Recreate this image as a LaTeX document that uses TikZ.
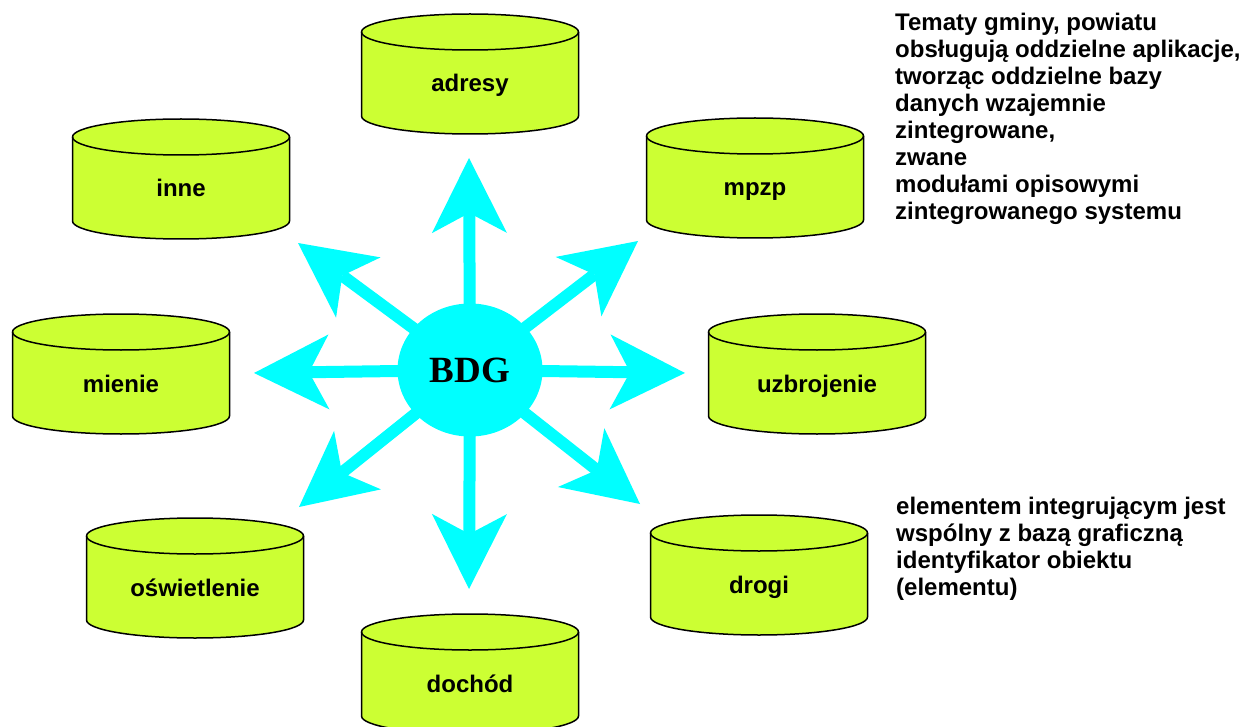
\documentclass[tikz,border=0pt]{standalone}
\usepackage{fontspec}
\setmainfont{Liberation Sans}
\newfontfamily\hubfont{Liberation Serif}
\usetikzlibrary{arrows.meta,shapes.geometric,backgrounds}

\definecolor{cyllime}{HTML}{CCFF33}
\definecolor{hubcyan}{HTML}{00FFFF}

\tikzset{
  cyllabel/.style={font=\bfseries\fontsize{24}{27}\selectfont, inner sep=0pt, anchor=base},
  % database cylinder: origin at the centre of the top ellipse
  dbcyl/.pic={
    \filldraw[fill=cyllime, draw=black, line width=1.5pt, line join=round]
      (-108.5,0) -- (-108.5,84)
      arc[start angle=180, end angle=360, x radius=108.5pt, y radius=18pt]
      -- (108.5,0)
      arc[start angle=0, end angle=180, x radius=108.5pt, y radius=18pt] -- cycle;
    \draw[line width=1.5pt]
      (-108.5,0) arc[start angle=180, end angle=360, x radius=108.5pt, y radius=18pt];
    \node[cyllabel] (-txt) at (0,60) {#1};
  },
  hub/.style={ellipse, fill=hubcyan, minimum width=145pt, minimum height=133pt,
    inner sep=0pt, font=\hubfont\bfseries\fontsize{37}{40}\selectfont},
  spoke/.style={draw=hubcyan, line width=12pt,
    -{Stealth[length=75pt, width=75pt, inset=20pt, line width=0pt, fill=hubcyan]}},
  note/.style={font=\bfseries\fontsize{24}{27}\selectfont, align=left,
    inner sep=0pt, anchor=north west},
}

\begin{document}
\begin{tikzpicture}[x=1pt, y=-1pt]
  \useasboundingbox (0,0) rectangle (1249,727);
  \clip (0,0) rectangle (1249,727);

  % central database
  \node[hub] (bdg) at (470,370) {BDG};

  % free ends of the spokes
  \coordinate (tipN)  at (469,158);
  \coordinate (tipS)  at (469,589);
  \coordinate (tipE)  at (685,373);
  \coordinate (tipW)  at (254,373);
  \coordinate (tipNE) at (638,241);
  \coordinate (tipNW) at (298,243);
  \coordinate (tipSW) at (299,507);
  \coordinate (tipSE) at (640,504);

  \begin{scope}[on background layer]
    \foreach \t in {tipN,tipS,tipE,tipW,tipNE,tipNW,tipSW,tipSE}
      \draw[spoke] (bdg.center) -- (\t);
  \end{scope}

  % descriptive modules
  \pic (adresy)      at (470,32)  {dbcyl={adresy}};
  \pic (inne)        at (181,137) {dbcyl={inne}};
  \pic (mpzp)        at (755,136) {dbcyl={mpzp}};
  \pic (mienie)      at (121,332) {dbcyl={mienie}};
  \pic (uzbrojenie)  at (817,332) {dbcyl={uzbrojenie}};
  \pic (oswietlenie) at (195,536) {dbcyl={oświetlenie}};
  \pic (drogi)       at (759,533) {dbcyl={drogi}};
  \pic (dochod)      at (470,632) {dbcyl={dochód}};

  % side notes
  \node[note] (topnote) at (895,13) {Tematy gminy, powiatu\\
    obsługują oddzielne aplikacje,\\
    tworząc oddzielne bazy\\
    danych wzajemnie\\
    zintegrowane,\\
    zwane\\
    modułami opisowymi\\
    zintegrowanego systemu};
  \node[note] (bottomnote) at (896,497) {elementem integrującym jest\\
    wspólny z bazą graficzną\\
    identyfikator obiektu\\
    (elementu)};
\end{tikzpicture}
\end{document}
